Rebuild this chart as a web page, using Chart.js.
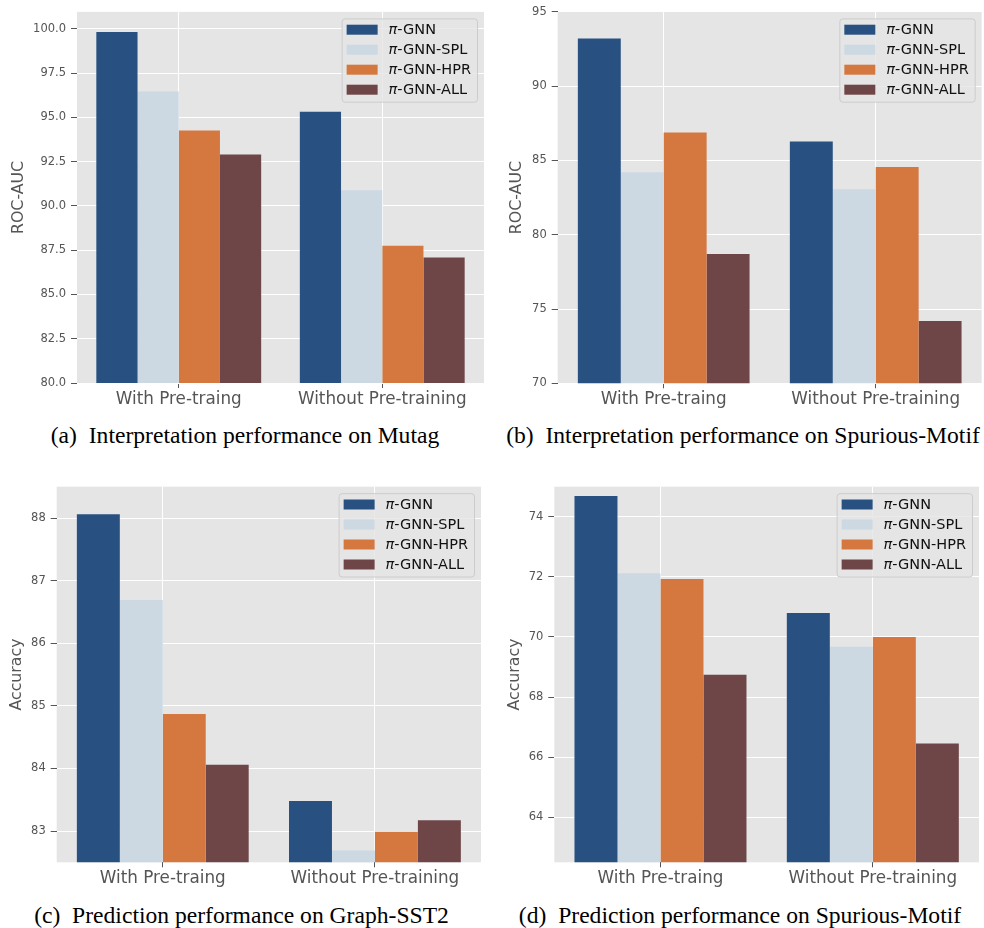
<!DOCTYPE html>
<html><head><meta charset="utf-8">
<script src="https://cdn.jsdelivr.net/npm/chart.js@4.4.1/dist/chart.umd.min.js"></script>
<style>
html,body{margin:0;padding:0;background:#fff;width:984px;height:928px;overflow:hidden;}
canvas{position:absolute;}
.cap{position:absolute;width:520px;text-align:center;font-family:'Liberation Serif','Times New Roman',serif;font-size:23.6px;line-height:23px;color:#000;white-space:nowrap;}
</style></head><body>
<canvas id="ca"></canvas>
<canvas id="cb"></canvas>
<canvas id="cc"></canvas>
<canvas id="cd"></canvas>
<div class="cap" id="capA"></div>
<div class="cap" id="capB"></div>
<div class="cap" id="capC"></div>
<div class="cap" id="capD"></div>
<script>
// ---------- data ----------
const categories = ['With Pre-traing', 'Without Pre-training'];
const seriesNames = ['π-GNN', 'π-GNN-SPL', 'π-GNN-HPR', 'π-GNN-ALL'];

// (a) Interpretation performance on Mutag (ROC-AUC)
const mutagGNN = [99.82, 95.31];
const mutagSPL = [96.46, 90.88];
const mutagHPR = [94.25, 87.75];
const mutagALL = [92.90, 87.08];

// (b) Interpretation performance on Spurious-Motif (ROC-AUC)
const motifInterpGNN = [93.21, 86.28];
const motifInterpSPL = [84.20, 83.06];
const motifInterpHPR = [86.89, 84.56];
const motifInterpALL = [78.70, 74.20];

// (c) Prediction performance on Graph-SST2 (Accuracy)
const sstGNN = [88.06, 83.48];
const sstSPL = [86.69, 82.69];
const sstHPR = [84.87, 82.99];
const sstALL = [84.06, 83.17];

// (d) Prediction performance on Spurious-Motif (Accuracy)
const motifPredGNN = [74.69, 70.80];
const motifPredSPL = [72.12, 69.67];
const motifPredHPR = [71.93, 70.00];
const motifPredALL = [68.74, 66.45];

// tick labels and axis ranges
const ticksA = [80, 82.5, 85, 87.5, 90, 92.5, 95, 97.5, 100];
const ticksB = [70, 75, 80, 85, 90, 95];
const ticksC = [83, 84, 85, 86, 87, 88];
const ticksD = [64, 66, 68, 70, 72, 74];
const rangeA = [80, 100.95];
const rangeB = [70, 95];
const rangeC = [82.5, 88.5];
const rangeD = [62.5, 75];

const captions = [
  '(a)&nbsp; Interpretation performance on Mutag',
  '(b)&nbsp; Interpretation performance on Spurious-Motif',
  '(c)&nbsp; Prediction performance on Graph-SST2',
  '(d)&nbsp; Prediction performance on Spurious-Motif'
];

// ---------- styles ----------
const colors = ['#285182', '#ccd9e3', '#d57840', '#6e4648'];
const FONT = "'DejaVu Sans', sans-serif";

const bgPlugin = {
  id: 'ggbg',
  beforeDraw(chart) {
    const {ctx, chartArea: a} = chart;
    ctx.save();
    ctx.fillStyle = '#e5e5e5';
    ctx.fillRect(a.left, a.top, a.right - a.left, a.bottom - a.top);
    ctx.restore();
  }
};

const legendPlugin = {
  id: 'inLegend',
  afterDatasetsDraw(chart) {
    const {ctx, chartArea: a} = chart;
    const fs = 14.5;
    const fontI = 'italic ' + fs + 'px ' + FONT;
    const fontR = fs + 'px ' + FONT;
    ctx.save();
    let maxW = 0;
    const items = chart.data.datasets.map(ds => {
      const p = ds.label.slice(0, 1), rest = ds.label.slice(1);
      ctx.font = fontI; const wp = ctx.measureText(p).width;
      ctx.font = fontR; const wr = ctx.measureText(rest).width;
      maxW = Math.max(maxW, wp + wr);
      return {p, rest, wp, color: ds.backgroundColor};
    });
    const padL = 5, patchW = 31, patchH = 10, gap = 11, padR = 6, rowH = 20, padT = 11.3, padB = 12;
    const w = padL + patchW + gap + maxW + padR;
    const h = padT + rowH * (items.length - 1) + padB;
    const x0 = a.right - 7 - w, y0 = a.top + 6.5;
    ctx.beginPath();
    if (ctx.roundRect) ctx.roundRect(x0 + 0.5, y0 + 0.5, w, h, 3); else ctx.rect(x0 + 0.5, y0 + 0.5, w, h);
    ctx.fillStyle = 'rgba(229,229,229,0.8)';
    ctx.fill();
    ctx.strokeStyle = '#cccccc';
    ctx.lineWidth = 1;
    ctx.stroke();
    ctx.textBaseline = 'middle';
    ctx.textAlign = 'left';
    items.forEach((it, i) => {
      const cy = y0 + padT + i * rowH;
      ctx.fillStyle = it.color;
      ctx.fillRect(x0 + padL, cy - patchH / 2, patchW, patchH);
      const tx = x0 + padL + patchW + gap;
      ctx.fillStyle = '#111';
      ctx.font = fontI; ctx.fillText(it.p, tx, cy + 0.5);
      ctx.font = fontR; ctx.fillText(it.rest, tx + it.wp, cy + 0.5);
    });
    ctx.restore();
  }
};

function makeChart(id, series, range, ticks, yTitle, decimals, g) {
  const cv = document.getElementById(id);
  cv.width = g.w; cv.height = g.h;
  cv.style.left = g.left + 'px'; cv.style.top = g.top + 'px';
  cv.style.width = g.w + 'px'; cv.style.height = g.h + 'px';
  return new Chart(cv, {
    type: 'bar',
    data: {
      labels: categories,
      datasets: series.map((s, i) => ({
        label: seriesNames[i],
        data: s,
        backgroundColor: colors[i],
        borderWidth: 0,
        categoryPercentage: 0.81,
        barPercentage: 1.0
      }))
    },
    options: {
      responsive: false,
      animation: false,
      devicePixelRatio: 1,
      layout: {padding: {top: g.padTop, right: g.padRight, left: 0, bottom: 0}},
      plugins: {legend: {display: false}, tooltip: {enabled: false}},
      scales: {
        x: {
          type: 'category',
          grid: {offset: false, color: '#ffffff', lineWidth: 1, tickColor: '#555555', tickLength: 5, tickWidth: 1},
          border: {display: false},
          ticks: {color: '#555555', font: {family: FONT, size: 16.8}, padding: 1.5, maxRotation: 0, autoSkip: false},
          afterFit: (s) => { s.height = g.xAxisH; }
        },
        y: {
          type: 'linear',
          min: range[0], max: range[1],
          grid: {color: '#ffffff', lineWidth: 1, tickColor: '#555555', tickLength: 6, tickWidth: 1},
          border: {display: false},
          ticks: {color: '#555555', font: {family: FONT, size: 11.5}, padding: 5,
                  callback: (v) => Number(v).toFixed(decimals)},
          afterBuildTicks: (s) => { s.ticks = ticks.map(v => ({value: v})); },
          title: {display: true, text: yTitle, color: '#555555',
                  font: {family: FONT, size: 15.8, lineHeight: 1.2}, padding: 0},
          afterFit: (s) => { s.width = g.yAxisW; }
        }
      }
    },
    plugins: [bgPlugin, legendPlugin]
  });
}

// geometry: chart areas
makeChart('ca', [mutagGNN, mutagSPL, mutagHPR, mutagALL], rangeA, ticksA, 'ROC-AUC', 1,
  {left: 9, top: 0, w: 477, h: 415, padTop: 8, padRight: 2, yAxisW: 68, xAxisH: 32});
makeChart('cb', [motifInterpGNN, motifInterpSPL, motifInterpHPR, motifInterpALL], rangeB, ticksB, 'ROC-AUC', 0,
  {left: 507, top: 0, w: 477, h: 415, padTop: 11.7, padRight: 2.3, yAxisW: 50.7, xAxisH: 31.7});
makeChart('cc', [sstGNN, sstSPL, sstHPR, sstALL], rangeC, ticksC, 'Accuracy', 0,
  {left: 7, top: 470, w: 476, h: 420, padTop: 16.7, padRight: 2, yAxisW: 49.7, xAxisH: 27.7});
makeChart('cd', [motifPredGNN, motifPredSPL, motifPredHPR, motifPredALL], rangeD, ticksD, 'Accuracy', 0,
  {left: 505, top: 470, w: 476, h: 420, padTop: 16.7, padRight: 2, yAxisW: 49.3, xAxisH: 27.7});

// captions
const capPos = [[245, 424], [743, 424], [241.5, 904], [740, 904]];
['capA', 'capB', 'capC', 'capD'].forEach((id, i) => {
  const el = document.getElementById(id);
  el.innerHTML = captions[i];
  el.style.left = (capPos[i][0] - 260) + 'px';
  el.style.top = capPos[i][1] + 'px';
});
</script>
</body></html>
